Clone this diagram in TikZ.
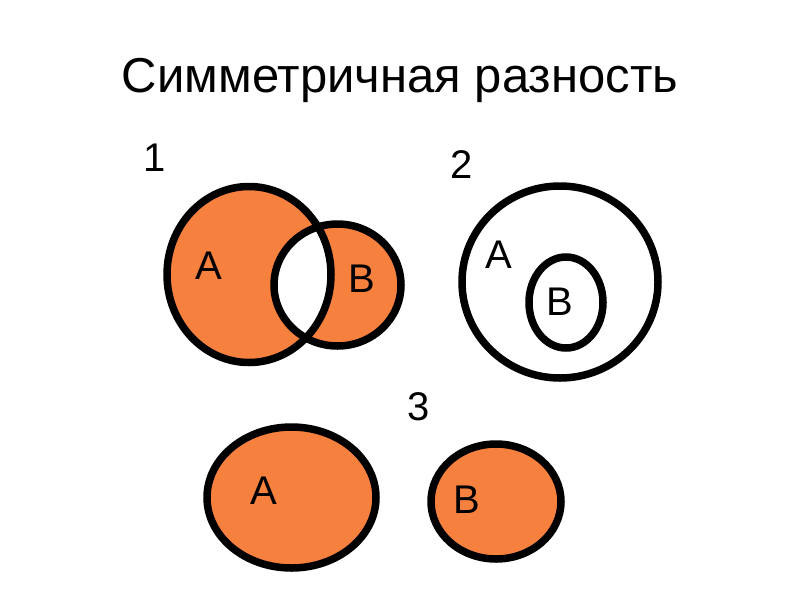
\documentclass[tikz,border=0pt]{standalone}
\usepackage{fontspec}
\setmainfont{Liberation Sans}
\usetikzlibrary{positioning}
\definecolor{myorange}{RGB}{246,128,62}
\tikzstyle{setline}=[draw=black,line width=7.5pt]
\tikzstyle{setlabel}=[font=\fontsize{40}{40}\selectfont,inner sep=0pt]
\tikzstyle{heading}=[font=\fontsize{49}{49}\selectfont,inner sep=0pt,anchor=base]

\begin{document}
\begin{tikzpicture}[x=1pt,y=-1pt]
\useasboundingbox (0,0) rectangle (800,600);
\node [heading] (title) at (400,92) {Симметричная разность};

% case 1: overlapping sets
\node [setlabel] (num1) at (155,158) {1};
\fill [myorange] (249,274.5) ellipse [x radius=82, y radius=88];
\fill [myorange] (337.5,285) ellipse [x radius=63.5, y radius=61];
\begin{scope}
  \clip (249,274.5) ellipse [x radius=82, y radius=88];
  \fill [white] (337.5,285) ellipse [x radius=63.5, y radius=61];
\end{scope}
\draw [setline] (249,274.5) ellipse [x radius=82, y radius=88];
\draw [setline] (337.5,285) ellipse [x radius=63.5, y radius=61];
\node [setlabel] (a1) at (209,266) {A};
\node [setlabel] (b1) at (362,279) {B};

% case 2: B inside A
\node [setlabel] (num2) at (462,165) {2};
\draw [setline] (560,282) ellipse [x radius=98, y radius=96];
\draw [setline] (566,302.5) ellipse [x radius=37, y radius=45.5];
\node [setlabel] (a2) at (499,255) {A};
\node [setlabel] (b2) at (560,302) {B};

% case 3: disjoint sets
\node [setlabel] (num3) at (419,407) {3};
\filldraw [setline,fill=myorange] (291.5,497.5) ellipse [x radius=84.5, y radius=70.5];
\filldraw [setline,fill=myorange] (496,501.5) ellipse [x radius=65, y radius=57.5];
\node [setlabel] (a3) at (264,491) {A};
\node [setlabel] (b3) at (467,500) {B};
\end{tikzpicture}
\end{document}
